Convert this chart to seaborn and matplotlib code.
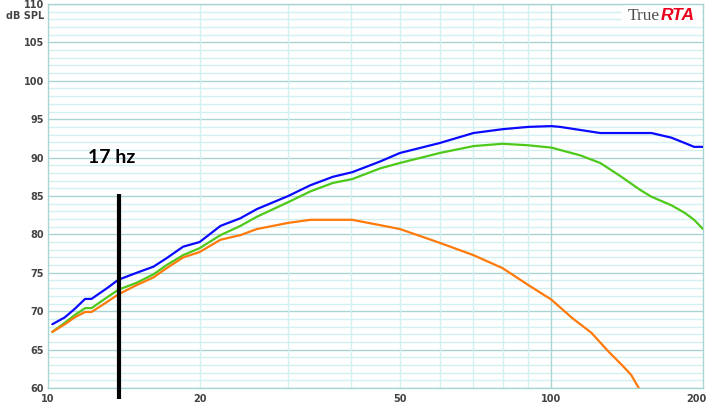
import matplotlib
matplotlib.use("Agg")
import matplotlib.pyplot as plt
import matplotlib.transforms as mtransforms
import seaborn as sns
import pandas as pd
from matplotlib.patches import Rectangle

# ---- data ----
freq_main = [10.2, 10.8, 11.3, 11.85, 12.2, 13.1, 13.8, 15.0, 16.2, 17.2, 18.55,
             20.0, 22.0, 24.1, 26.0, 30.0, 33.2, 36.8, 40.2, 45.7, 50, 60, 70,
             80, 90, 100, 104, 114, 125, 137, 150, 158, 173, 184, 192, 200]
blue_db = [68.3, 69.2, 70.3, 71.6, 71.6, 73.0, 74.1, 75.0, 75.8, 76.9, 78.4,
           79.0, 81.1, 82.1, 83.3, 85.0, 86.4, 87.5, 88.1, 89.5, 90.6, 91.9, 93.2,
           93.7, 94.0, 94.1, 94.0, 93.6, 93.2, 93.2, 93.2, 93.2, 92.6, 91.9, 91.4, 91.4]
green_db = [67.3, 68.5, 69.5, 70.4, 70.4, 71.8, 72.8, 73.7, 74.8, 76.0, 77.3,
            78.2, 79.9, 81.1, 82.3, 84.2, 85.6, 86.7, 87.2, 88.6, 89.3, 90.6, 91.5,
            91.8, 91.6, 91.3, 91.0, 90.3, 89.3, 87.6, 85.8, 84.9, 83.8, 82.8, 81.9, 80.7]
freq_orange = [10.2, 10.8, 11.3, 11.85, 12.2, 13.1, 13.8, 15.0, 16.2, 17.2, 18.55,
               20.0, 22.0, 24.1, 26.0, 30.0, 33.2, 36.8, 40.2, 45.7, 50, 60, 70,
               80, 90, 100, 110, 120, 130, 138, 144, 150]
orange_db = [67.3, 68.3, 69.2, 69.9, 69.9, 71.2, 72.2, 73.4, 74.4, 75.6, 77.0,
             77.7, 79.3, 79.9, 80.7, 81.5, 81.9, 81.9, 81.9, 81.2, 80.7, 78.9, 77.3,
             75.6, 73.4, 71.5, 69.1, 67.2, 64.7, 63.0, 61.7, 59.7]

x_ticks = [10, 20, 50, 100, 200]
x_ticklabels = ["10", "20", "50", "100", "200"]
y_ticks = [60, 65, 70, 75, 80, 85, 90, 95, 100, 105, 110]
vgrid = [20, 30, 40, 50, 60, 70, 80, 90]
marker_freq = 13.84
marker_db = [58.6, 85.3]

df = pd.concat([
    pd.DataFrame({"f": freq_main, "db": blue_db, "s": "blue"}),
    pd.DataFrame({"f": freq_main, "db": green_db, "s": "green"}),
    pd.DataFrame({"f": freq_orange, "db": orange_db, "s": "orange"}),
])
palette = {"blue": "#0a0aff", "green": "#4ec91a", "orange": "#ff7a0a"}

sns.set_style("white")
fig = plt.figure(figsize=(7.11, 4.16), dpi=100)
ax = fig.add_axes([48/711, 28/416, 655/711, 384/416])
ax.set_xscale("log")

minor_c = "#d2f0f0"
major_c = "#a9d4d4"
for v in range(60, 111):
    ax.axhline(v, color=major_c if v % 5 == 0 else minor_c, lw=1.0, zorder=1)
for f in vgrid:
    ax.axvline(f, color=minor_c, lw=1.0, zorder=1)
ax.axvline(100, color=major_c, lw=1.0, zorder=1)

sns.lineplot(data=df, x="f", y="db", hue="s", palette=palette, lw=1.6,
             legend=False, ax=ax, sort=False, estimator=None, zorder=3)

ax.set_xlim(10, 200)
ax.set_ylim(60, 110)
ax.minorticks_off()
ax.set_xticks(x_ticks)
ax.set_xticklabels(x_ticklabels)
ax.set_yticks(y_ticks)
ax.set_yticklabels([str(t) for t in y_ticks])
ax.tick_params(length=0, labelsize=7, labelcolor="#444444")
ax.tick_params(axis="y", pad=3)
ax.tick_params(axis="x", pad=4)
for lab in ax.get_xticklabels() + ax.get_yticklabels():
    lab.set_fontweight("bold")
    lab.set_family("DejaVu Sans")
last = ax.get_xticklabels()[-1]
last.set_transform(last.get_transform() +
                   mtransforms.ScaledTranslation(-7/100, 0, fig.dpi_scale_trans))
ax.set_xlabel("")
ax.set_ylabel("")
for sp in ax.spines.values():
    sp.set_color(major_c)
    sp.set_linewidth(1.0)

fig.text(44/711, 1 - 16/416, "dB SPL", ha="right", va="center", fontsize=7,
         fontweight="bold", color="#444444", family="DejaVu Sans")

# logo background and text
ax.add_patch(Rectangle(((622-48)/655, (388-25)/384), (702-622)/655, 25/384,
                       transform=ax.transAxes, facecolor="white", edgecolor="none",
                       zorder=2))
fig.text(660/711, 1 - 20/416, "True", ha="right", va="baseline", fontsize=12.5,
         family="Liberation Serif", color="#505050", zorder=5)
fig.text(661/711, 1 - 20/416, "RTA", ha="left", va="baseline", fontsize=12.5,
         family="Liberation Sans", fontweight="bold", style="italic",
         color="#e8001c", zorder=5)

# marker line and label
ax.plot([marker_freq, marker_freq], marker_db, color="black", lw=3.0,
        clip_on=False, solid_capstyle="butt", zorder=4)
ax.text(13.4, 90.0, "17 hz", ha="center", va="center", fontsize=14,
        fontweight="bold", family="Lato", color="black", zorder=5)

fig.savefig("out.png", dpi=100)
